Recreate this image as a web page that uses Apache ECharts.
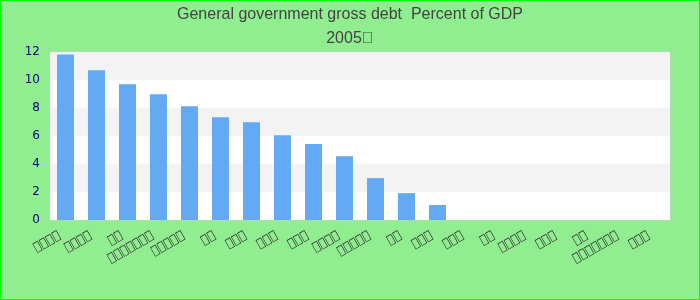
<!DOCTYPE html>
<html>
<head>
<meta charset="utf-8">
<script src="https://cdn.jsdelivr.net/npm/echarts@6/dist/echarts.min.js"></script>
<style>
html,body{margin:0;padding:0;background:#90ee90;}
#chart{width:700px;height:300px;}
</style>
</head>
<body>
<div id="chart"></div>
<script>
// Category labels render as missing-glyph boxes in the reference; lengths preserved.
const T = '\uE000';
const categories = [
  T.repeat(4), T.repeat(4), T.repeat(2), T.repeat(7), T.repeat(5),
  T.repeat(2), T.repeat(3), T.repeat(3), T.repeat(3), T.repeat(4),
  T.repeat(5), T.repeat(2), T.repeat(3), T.repeat(3), T.repeat(2),
  T.repeat(4), T.repeat(3), T.repeat(2), T.repeat(7), T.repeat(3)
];
const values = [11.83, 10.69, 9.69, 8.98, 8.13, 7.34, 6.98, 6.06, 5.42, 4.56,
  2.99, 1.92, 1.07, null, null, null, null, null, null, null];
const titleText = 'General government gross debt  Percent of GDP\n2005' + T;

const chart = echarts.init(document.getElementById('chart'), null, {renderer: 'canvas'});
chart.setOption({
  backgroundColor: '#90ee90',
  animation: false,
  title: {
    text: titleText,
    left: 'center',
    top: -2,
    textStyle: {
      fontFamily: 'Liberation Sans',
      fontSize: 16,
      fontWeight: 'normal',
      color: '#444',
      lineHeight: 24
    }
  },
  graphic: [{
    type: 'rect',
    shape: {x: 0.5, y: 0.5, width: 699, height: 299},
    style: {fill: null, stroke: '#00ff00', lineWidth: 1},
    silent: true
  }],
  grid: {
    left: 50, right: 30, top: 52, bottom: 80,
    show: true, backgroundColor: '#fff', borderColor: '#ccc', borderWidth: 1
  },
  xAxis: {
    type: 'category',
    data: categories,
    axisLine: {show: false},
    axisTick: {show: false},
    axisLabel: {
      interval: 0,
      rotate: 30,
      color: '#333',
      fontFamily: 'DejaVu Sans',
      fontSize: 12,
      margin: 11,
      padding: [0, 7, 0, 0]
    }
  },
  yAxis: {
    type: 'value',
    min: 0, max: 12, interval: 2,
    axisLine: {show: false},
    axisTick: {show: false},
    splitLine: {show: false},
    splitArea: {show: true, areaStyle: {color: ['#ffffff', '#f3f3f3']}},
    axisLabel: {
      color: '#000088',
      fontFamily: 'DejaVu Sans',
      fontSize: 12,
      margin: 10
    }
  },
  series: [{
    type: 'bar',
    data: values,
    barWidth: 17,
    itemStyle: {color: '#63a9f4'}
  }]
});
</script>
</body>
</html>
